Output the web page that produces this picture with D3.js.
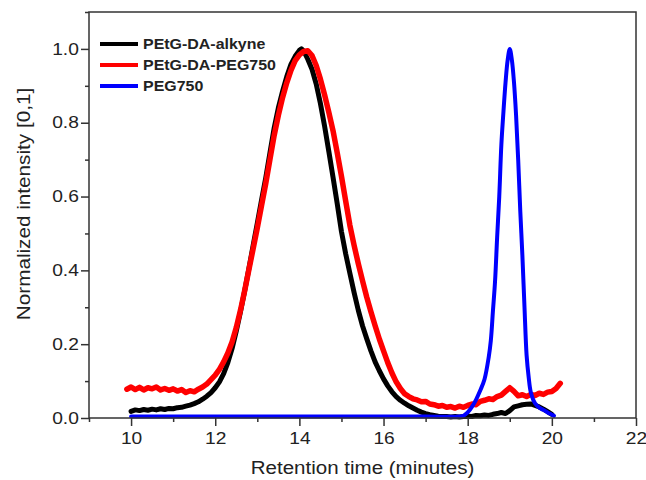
<!DOCTYPE html>
<html>
<head>
<meta charset="utf-8">
<script src="https://cdn.jsdelivr.net/npm/d3@7"></script>
<style>
  html, body { margin: 0; padding: 0; background: #fff; }
  svg { display: block; font-family: "Liberation Sans", Arial, sans-serif; }
</style>
</head>
<body>
<svg id="chart" width="646" height="480"></svg>
<script>
// ---------------- DATA ----------------
const seriesNames = ["PEtG-DA-alkyne", "PEtG-DA-PEG750", "PEG750"];
const seriesColors = ["#000000", "#ff0000", "#0000ff"];

const alkyneTime = [10.0,10.1,10.2,10.3,10.4,10.5,10.6,10.7,10.8,10.9,11.0,11.1,11.2,11.3,11.4,11.5,11.6,11.7,11.8,11.9,
  12.0,12.1,12.2,12.3,12.4,12.5,12.6,12.7,12.8,12.9,13.0,13.1,13.2,13.3,13.4,13.5,13.6,13.7,13.8,13.9,
  14.0,14.05,14.1,14.2,14.3,14.4,14.5,14.6,14.7,14.8,14.9,15.0,15.1,15.2,15.3,15.4,15.5,15.6,15.7,15.8,15.9,
  16.0,16.1,16.2,16.3,16.4,16.5,16.6,16.7,16.8,16.9,17.0,17.1,17.2,17.3,17.4,17.5,17.6,17.7,17.8,17.9,
  18.0,18.1,18.2,18.3,18.4,18.5,18.6,18.7,18.8,18.9,19.0,19.1,19.2,19.3,19.4,19.5,19.6,19.7,19.8,19.9,20.0];
const alkyneValue = [0.018,0.022,0.020,0.023,0.021,0.024,0.022,0.025,0.023,0.026,0.025,0.028,0.029,0.032,0.035,0.039,0.044,0.051,0.059,0.069,
  0.082,0.098,0.120,0.150,0.188,0.235,0.288,0.345,0.405,0.467,0.528,0.590,0.650,0.718,0.785,0.840,0.885,0.925,0.958,0.980,
  0.996,1.000,0.995,0.972,0.945,0.905,0.852,0.790,0.722,0.652,0.580,0.505,0.445,0.392,0.340,0.292,0.250,0.215,0.182,0.152,0.128,
  0.106,0.087,0.071,0.058,0.048,0.040,0.033,0.027,0.021,0.016,0.012,0.009,0.007,0.005,0.004,0.004,0.003,0.004,0.003,0.004,
  0.005,0.004,0.007,0.006,0.008,0.007,0.010,0.012,0.015,0.012,0.020,0.030,0.033,0.036,0.037,0.038,0.034,0.030,0.024,0.017,0.010];

const peg750ConjTime = [9.9,10.0,10.1,10.2,10.3,10.4,10.5,10.6,10.7,10.8,10.9,11.0,11.1,11.2,11.3,11.4,11.5,11.6,11.7,11.8,11.9,
  12.0,12.1,12.2,12.3,12.4,12.5,12.6,12.7,12.8,12.9,13.0,13.1,13.2,13.3,13.4,13.5,13.6,13.7,13.8,13.9,
  14.0,14.1,14.2,14.3,14.4,14.5,14.6,14.7,14.8,14.9,15.0,15.1,15.2,15.3,15.4,15.5,15.6,15.7,15.8,15.9,
  16.0,16.1,16.2,16.3,16.4,16.5,16.6,16.7,16.8,16.9,17.0,17.1,17.2,17.3,17.4,17.5,17.6,17.7,17.8,17.9,
  18.0,18.1,18.2,18.3,18.4,18.5,18.6,18.7,18.8,18.9,19.0,19.1,19.2,19.3,19.4,19.5,19.6,19.7,19.8,19.9,20.0,20.1,20.2];
const peg750ConjValue = [0.078,0.084,0.077,0.083,0.076,0.082,0.079,0.084,0.076,0.080,0.075,0.079,0.073,0.077,0.069,0.074,0.071,0.078,0.084,0.092,0.104,
  0.116,0.132,0.152,0.176,0.206,0.245,0.292,0.345,0.402,0.458,0.515,0.575,0.635,0.700,0.765,0.820,0.868,0.908,0.942,0.968,
  0.984,0.993,0.995,0.982,0.955,0.918,0.875,0.828,0.778,0.718,0.655,0.588,0.522,0.468,0.418,0.372,0.328,0.288,0.250,0.214,
  0.182,0.150,0.122,0.098,0.080,0.066,0.058,0.052,0.049,0.044,0.045,0.038,0.036,0.032,0.034,0.029,0.031,0.027,0.032,0.029,
  0.034,0.038,0.036,0.045,0.048,0.052,0.050,0.058,0.062,0.072,0.082,0.072,0.060,0.063,0.058,0.064,0.061,0.067,0.064,0.070,0.072,0.080,0.094];

const pegTime = [10.0,11.0,12.0,13.0,14.0,15.0,16.0,17.0,17.8,17.9,18.0,18.1,18.2,18.3,18.4,18.5,18.55,18.6,18.65,18.7,18.75,18.8,18.85,18.9,18.95,
  19.0,19.05,19.1,19.15,19.2,19.25,19.3,19.35,19.4,19.45,19.5,19.6,19.7,19.8,19.9,20.0,20.05];
const pegValue = [0.004,0.004,0.004,0.004,0.004,0.004,0.004,0.004,0.004,0.006,0.015,0.030,0.050,0.075,0.105,0.165,0.210,0.290,0.370,0.490,0.600,0.740,0.830,0.910,0.970,
  1.000,0.970,0.910,0.820,0.700,0.560,0.440,0.300,0.170,0.110,0.070,0.040,0.028,0.022,0.015,0.009,0.006];

const xTickValues = [10, 12, 14, 16, 18, 20, 22];
const xMinorValues = [9, 11, 13, 15, 17, 19, 21];
const yTickValues = [0.0, 0.2, 0.4, 0.6, 0.8, 1.0];
const yMinorValues = [0.1, 0.3, 0.5, 0.7, 0.9, 1.1];
const xTitle = "Retention time (minutes)";
const yTitle = "Normalized intensity [0,1]";

// ---------------- CHART ----------------
const W = 646, H = 480;
const margin = {left: 89, top: 12, right: 10, bottom: 62};
const iw = W - margin.left - margin.right;
const ih = H - margin.top - margin.bottom;

const svg = d3.select("#chart");
const g = svg.append("g").attr("transform", `translate(${margin.left},${margin.top})`);

const x = d3.scaleLinear().domain([9, 22]).range([0, iw]);
const y = d3.scaleLinear().domain([0, 1.1]).range([ih, 0]);

const axisColor = "#333";

// curves
const series = [
  {time: alkyneTime, value: alkyneValue, width: 5},
  {time: peg750ConjTime, value: peg750ConjValue, width: 5.5},
  {time: pegTime, value: pegValue, width: 4}
];

series.forEach((s, i) => {
  const pts = s.time.map((t, k) => [t, s.value[k]]);
  g.append("path")
    .datum(pts)
    .attr("fill", "none")
    .attr("stroke", seriesColors[i])
    .attr("stroke-width", s.width)
    .attr("stroke-linejoin", "round")
    .attr("stroke-linecap", "round")
    .attr("d", d3.line().x(d => x(d[0])).y(d => y(d[1])).curve(i === 2 ? d3.curveCatmullRom : d3.curveLinear));
});

// axes
const xAxis = g.append("g").attr("transform", `translate(0,${ih})`)
  .call(d3.axisBottom(x).tickValues(xTickValues).tickSize(8).tickSizeOuter(0).tickFormat(d3.format("d")));
const xMinor = g.append("g").attr("transform", `translate(0,${ih})`)
  .call(d3.axisBottom(x).tickValues(xMinorValues).tickSize(4).tickSizeOuter(0).tickFormat(""));
const yAxis = g.append("g")
  .call(d3.axisLeft(y).tickValues(yTickValues).tickSize(8).tickSizeOuter(0).tickFormat(d3.format(".1f")));
const yMinor = g.append("g")
  .call(d3.axisLeft(y).tickValues(yMinorValues).tickSize(4).tickSizeOuter(0).tickFormat(""));

[xAxis, xMinor, yAxis, yMinor].forEach(a => {
  a.select(".domain").remove();
  a.selectAll(".tick line").attr("stroke", axisColor).attr("stroke-width", 1.5);
});

xAxis.selectAll(".tick text")
  .attr("fill", "#222")
  .style("font-size", "16px")
  .attr("y", 15)
  .attr("transform", "scale(1.2,1)");
yAxis.selectAll(".tick text")
  .attr("fill", "#222")
  .style("font-size", "16px")
  .attr("x", -8.5)
  .attr("transform", "scale(1.2,1)");

// frame
g.append("rect")
  .attr("x", 0).attr("y", 0).attr("width", iw).attr("height", ih)
  .attr("fill", "none").attr("stroke", axisColor).attr("stroke-width", 1.5);

// axis titles
svg.append("text")
  .attr("transform", `translate(${margin.left + iw / 2},474) scale(1.11,1)`)
  .attr("text-anchor", "middle")
  .attr("fill", "#222")
  .style("font-size", "18.5px")
  .text(xTitle);
svg.append("text")
  .attr("transform", `translate(30,204) rotate(-90) scale(1.12,1)`)
  .attr("text-anchor", "middle")
  .attr("fill", "#222")
  .style("font-size", "18.5px")
  .text(yTitle);

// legend
const legend = svg.append("g");
const legendY = [44, 65, 86];
seriesNames.forEach((name, i) => {
  legend.append("line")
    .attr("x1", 100).attr("x2", 138)
    .attr("y1", legendY[i]).attr("y2", legendY[i])
    .attr("stroke", seriesColors[i]).attr("stroke-width", 4);
  legend.append("text")
    .attr("transform", `translate(143,${legendY[i] + 5}) scale(1.14,1)`)
    .attr("fill", "#222")
    .style("font-size", "14px")
    .style("font-weight", "bold")
    .text(name);
});
</script>
</body>
</html>
